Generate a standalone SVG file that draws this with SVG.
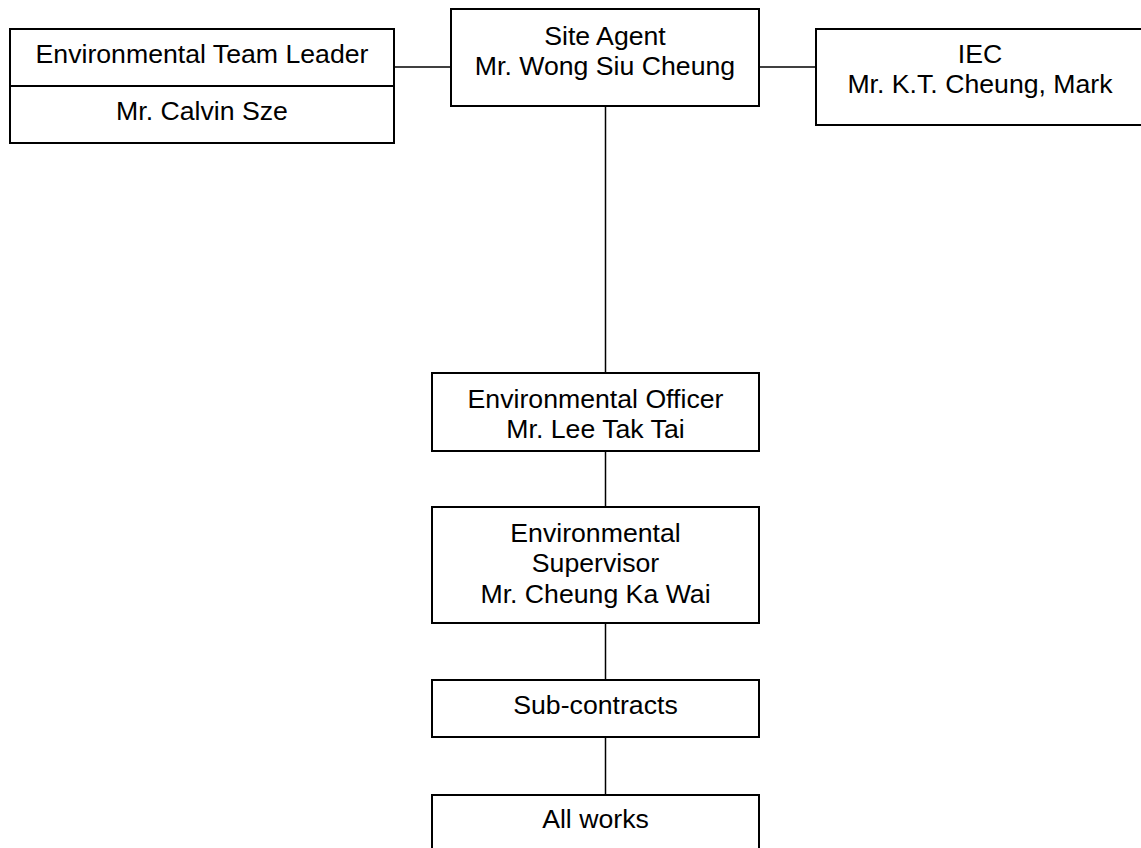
<svg xmlns="http://www.w3.org/2000/svg" width="1141" height="848" viewBox="0 0 1141 848">
<style>
.box{fill:#fff;stroke:#000;stroke-width:2}
.conn{stroke:#000;stroke-width:1.5;fill:none}
text{font-family:"Liberation Sans",Arial,sans-serif;font-size:26.67px;fill:#000;text-anchor:middle}
</style>
<rect width="1141" height="848" fill="#fff"/>
<g id="connectors">
<line class="conn" x1="394" y1="67" x2="451" y2="67"/>
<line class="conn" x1="759" y1="67" x2="816" y2="67"/>
<line class="conn" x1="605.5" y1="106" x2="605.5" y2="373"/>
<line class="conn" x1="605.5" y1="451" x2="605.5" y2="507"/>
<line class="conn" x1="605.5" y1="623" x2="605.5" y2="680"/>
<line class="conn" x1="605.5" y1="737" x2="605.5" y2="795"/>
</g>
<g id="team-leader">
<rect class="box" x="10" y="29" width="384" height="114"/>
<line class="conn" x1="10" y1="86" x2="394" y2="86" style="stroke-width:2"/>
<text x="202" y="63">Environmental Team Leader</text>
<text x="202" y="120">Mr. Calvin Sze</text>
</g>
<g id="site-agent">
<rect class="box" x="451" y="9" width="308" height="97"/>
<text x="605" y="45">Site Agent</text>
<text x="605" y="75">Mr. Wong Siu Cheung</text>
</g>
<g id="iec">
<rect class="box" x="816" y="29" width="328" height="96"/>
<text x="980" y="63">IEC</text>
<text x="980" y="93">Mr. K.T. Cheung, Mark</text>
</g>
<g id="env-officer">
<rect class="box" x="432" y="373" width="327" height="78"/>
<text x="595.5" y="408">Environmental Officer</text>
<text x="595.5" y="438">Mr. Lee Tak Tai</text>
</g>
<g id="env-supervisor">
<rect class="box" x="432" y="507" width="327" height="116"/>
<text x="595.5" y="542">Environmental</text>
<text x="595.5" y="572">Supervisor</text>
<text x="595.5" y="603">Mr. Cheung Ka Wai</text>
</g>
<g id="sub-contracts">
<rect class="box" x="432" y="680" width="327" height="57"/>
<text x="595.5" y="714">Sub-contracts</text>
</g>
<g id="all-works">
<rect class="box" x="432" y="795" width="327" height="60"/>
<text x="595.5" y="828">All works</text>
</g>
</svg>
